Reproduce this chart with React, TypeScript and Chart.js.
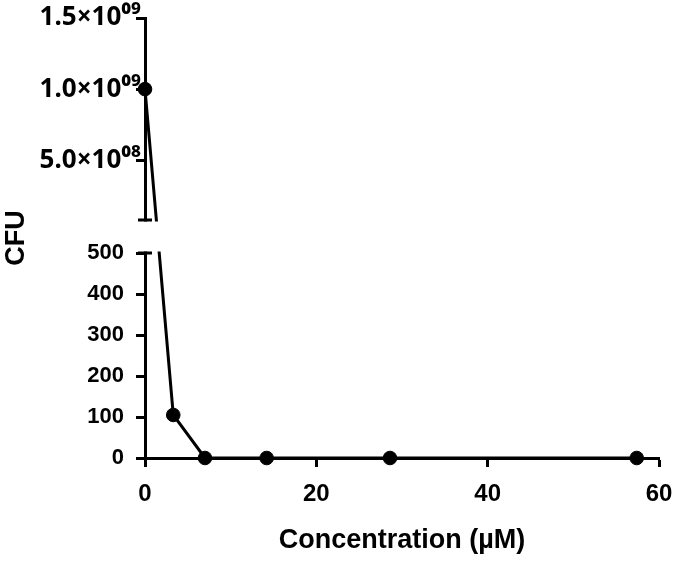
import React, { useEffect, useRef } from 'react';
import { Chart, LinearScale, registerables } from 'chart.js';

// ---- data ----
const concentrations = [0, 3.3, 7.0, 14.2, 28.6, 57.4];
const cfuValues = [1.0e9, 105, 0, 0, 0, 0];
const yTickValues = [0, 100, 200, 300, 400, 500, 5.0e8, 1.0e9, 1.5e9];
const xTickValues = [0, 20, 40, 60];
const axisBreak = [500, 8.0e7];
const xTitle = 'Concentration (µM)';
const yTitle = 'CFU';

const FAMILY = '"Liberation Sans", Arial, "DejaVu Sans", sans-serif';
const SUP_FAMILY = '"Noto Sans", "DejaVu Sans", sans-serif';
const SUP: Record<string, string> = { '0': '⁰', '1': '¹', '2': '²', '3': '³', '4': '⁴', '5': '⁵', '6': '⁶', '7': '⁷', '8': '⁸', '9': '⁹' };

function sciLabel(v: number): string {
  const e = Math.floor(Math.log10(v));
  const m = v / Math.pow(10, e);
  const exp = String(e).padStart(2, '0').split('').map((c) => SUP[c]).join('');
  return m.toFixed(1) + '×10' + exp;
}

// Linear scale whose tick labels can be nudged (lower/upper part, and vertically)
class ShiftedLinearScale extends LinearScale {
  static id = 'shiftedLinear';
  static defaults = {};

  _computeLabelItems(chartArea: any) {
    // @ts-ignore
    const items = super._computeLabelItems(chartArea);
    const o: any = this.options;
    const limit = o.breakAt ? o.breakAt[0] : Infinity;
    items.forEach((it: any, i: number) => {
      const t = this.ticks[i];
      if (!t || !it.options || !it.options.translation) return;
      const dx = t.value > limit ? o.labelShiftUpper || 0 : o.labelShiftLower || 0;
      it.options.translation[0] += dx;
      it.options.translation[1] += o.labelShiftY || 0;
    });
    return items;
  }
}

// Linear scale with a broken (two-segment) value axis
class BrokenLinearScale extends ShiftedLinearScale {
  static id = 'brokenLinear';
  static defaults = {};

  _seg() {
    const o: any = this.options;
    const lo = o.breakAt[0];
    const hi = o.breakAt[1];
    const H = this.bottom - this.top;
    const pLo = this.bottom - H * o.lowerShare;
    const pHi = pLo - H * o.gapShare;
    return { lo, hi, pLo, pHi };
  }

  getPixelForValue(value: number) {
    const { lo, hi, pLo, pHi } = this._seg();
    const min = this.min;
    const max = this.max;
    if (value <= lo) return this.bottom - ((value - min) / (lo - min)) * (this.bottom - pLo);
    if (value >= hi) return pHi - ((value - hi) / (max - hi)) * (pHi - this.top);
    return pLo - ((value - lo) / (hi - lo)) * (pLo - pHi);
  }

  getValueForPixel(pixel: number) {
    const { lo, hi, pLo, pHi } = this._seg();
    if (pixel >= pLo) return this.min + ((this.bottom - pixel) / (this.bottom - pLo)) * (lo - this.min);
    if (pixel <= pHi) return hi + ((pHi - pixel) / (pHi - this.top)) * (this.max - hi);
    return lo + ((pLo - pixel) / (pLo - pHi)) * (hi - lo);
  }
}

Chart.register(...registerables, ShiftedLinearScale, BrokenLinearScale);

const axisBreakPlugin = {
  id: 'axisBreakGap',
  afterDraw(chart: any) {
    const y = chart.scales.y;
    const ctx = chart.ctx;
    const pLo = y.getPixelForValue(axisBreak[0]);
    const pHi = y.getPixelForValue(axisBreak[1]);
    const ax = y.right;
    ctx.save();
    ctx.fillStyle = '#ffffff';
    ctx.fillRect(ax - 3, pHi + 1.5, chart.chartArea.right + 20 - ax, pLo - pHi - 3);
    ctx.strokeStyle = '#000000';
    ctx.lineWidth = 3;
    ctx.beginPath();
    ctx.moveTo(ax - 7, pHi);
    ctx.lineTo(ax + 7, pHi);
    ctx.moveTo(ax - 7, pLo);
    ctx.lineTo(ax + 7, pLo);
    ctx.stroke();
    ctx.restore();
  },
};

export default function App() {
  const ref = useRef<HTMLCanvasElement>(null);

  useEffect(() => {
    document.body.style.margin = '0';
    if (!ref.current) return;
    const chart = new Chart(ref.current, {
      type: 'line',
      data: {
        datasets: [
          {
            data: concentrations.map((x, i) => ({ x, y: cfuValues[i] })),
            borderColor: '#000',
            backgroundColor: '#000',
            borderWidth: 3,
            pointRadius: 6.8,
            pointBackgroundColor: '#000',
            pointBorderColor: '#000',
            pointBorderWidth: 1,
            tension: 0,
            clip: false as any,
          },
        ],
      },
      options: {
        animation: false,
        responsive: false,
        devicePixelRatio: 1,
        layout: { padding: { top: 18, right: 16, left: 0, bottom: 0 } },
        plugins: { legend: { display: false }, tooltip: { enabled: false } },
        scales: {
          x: {
            type: 'shiftedLinear' as any,
            min: 0,
            max: 60,
            labelShiftY: 13,
            afterBuildTicks: (s: any) => {
              s.ticks = xTickValues.map((v) => ({ value: v }));
            },
            afterFit: (s: any) => {
              s.height = 112;
            },
            grid: { drawOnChartArea: false, drawTicks: true, tickLength: 9, tickWidth: 3, tickColor: '#000' },
            border: { display: true, width: 3, color: '#000' },
            ticks: {
              color: '#000',
              padding: 0,
              maxRotation: 0,
              autoSkip: false,
              font: { family: FAMILY, size: 24, weight: 'bold' },
            },
            title: {
              display: true,
              text: xTitle,
              color: '#000',
              font: { family: FAMILY, size: 27, weight: 'bold' },
              padding: { top: 0, bottom: 13 },
            },
          } as any,
          y: {
            type: 'brokenLinear' as any,
            min: 0,
            max: 1.5e9,
            breakAt: axisBreak,
            lowerShare: 205 / 440,
            gapShare: 33 / 440,
            labelShiftLower: -12,
            labelShiftUpper: 5,
            afterBuildTicks: (s: any) => {
              s.ticks = yTickValues.map((v) => ({ value: v }));
            },
            afterFit: (s: any) => {
              s.width = 145;
            },
            grid: { drawOnChartArea: false, drawTicks: true, tickLength: 9, tickWidth: 3, tickColor: '#000' },
            border: { display: true, width: 3, color: '#000' },
            ticks: {
              color: '#000',
              padding: 0,
              autoSkip: false,
              callback: (v: any) => (Number(v) > axisBreak[0] ? sciLabel(Number(v)) : String(v)),
              font: (ctx: any) =>
                ctx.tick && ctx.tick.value > axisBreak[0]
                  ? { family: SUP_FAMILY, weight: 'bold', size: 26 }
                  : { family: FAMILY, weight: 'bold', size: 22 },
            },
            title: {
              display: true,
              text: yTitle,
              color: '#000',
              font: { family: FAMILY, size: 27, weight: 'bold' },
              padding: { top: 0, bottom: 0 },
            },
          } as any,
        },
      },
      plugins: [axisBreakPlugin],
    } as any);
    return () => chart.destroy();
  }, []);

  return (
    <div style={{ width: 675, height: 570 }}>
      <canvas ref={ref} width={675} height={570} />
    </div>
  );
}
